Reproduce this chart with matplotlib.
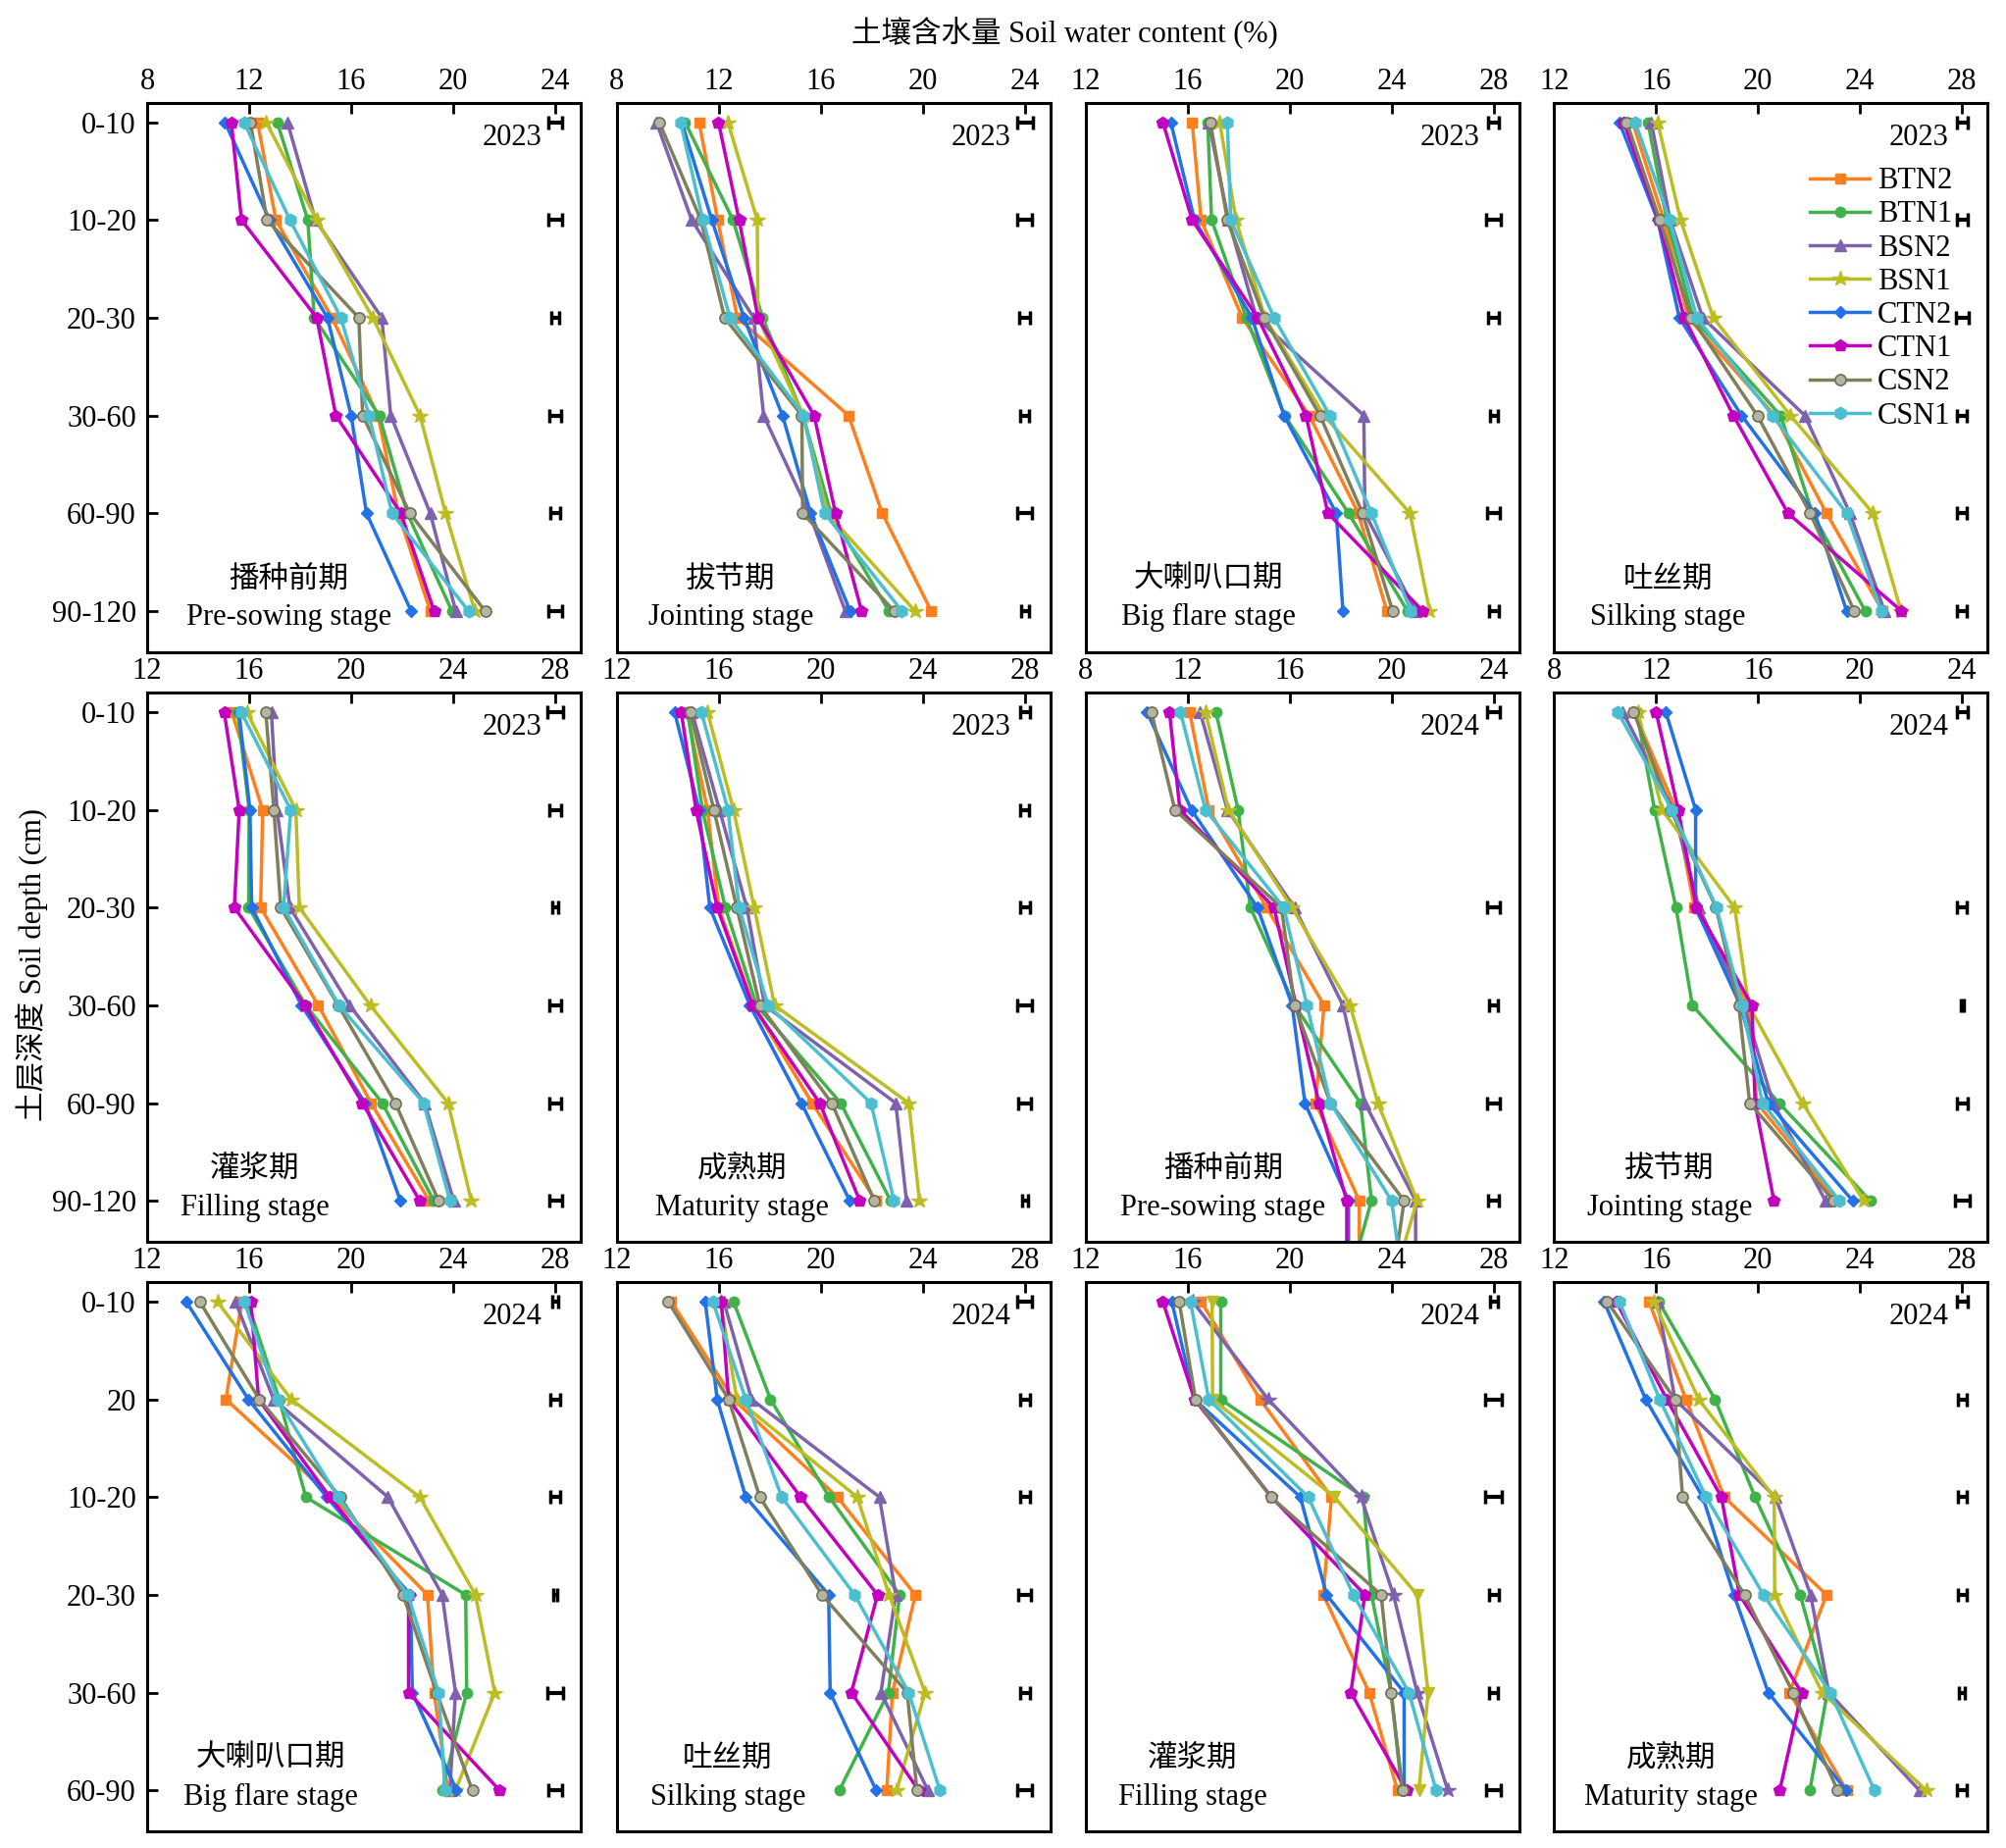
import numpy as np
import matplotlib.pyplot as plt

plt.rcParams['font.family'] = ['Liberation Serif', 'Noto Sans CJK SC']
plt.rcParams['font.size'] = 22
plt.rcParams['axes.linewidth'] = 2.2

treatments = ['BTN2', 'BTN1', 'BSN2', 'BSN1', 'CTN2', 'CTN1', 'CSN2', 'CSN1']
colors = ['#ff7f1e', '#3fb34a', '#7f62ad', '#bcbd22', '#2271e6', '#c300bf', '#7f7f5c', '#4bbfd0']
markers = ['s', 'o', '^', '*', 'D', 'p', 'o', 'h']
msizes = [7.5, 7.5, 8.5, 11.5, 6.5, 9, 8, 9]

depth_top = ['0-10', '10-20', '20-30', '30-60', '60-90', '90-120']
depth_bottom = ['0-10', '20', '10-20', '20-30', '30-60', '60-90']

# soil water content (%), rows: BTN2, BTN1, BSN2, BSN1, CTN2, CTN1, CSN2, CSN1
presow_2023 = [
    [12.33, 13.05, 15.25, 17.05, 17.85, 19.10],
    [13.10, 14.30, 14.55, 17.10, 18.20, 19.95],
    [13.50, 14.60, 17.20, 17.55, 19.10, 20.10],
    [12.67, 14.65, 16.85, 18.70, 19.70, 20.85],
    [11.05, 12.80, 15.07, 16.00, 16.60, 18.35],
    [11.30, 11.70, 14.65, 15.40, 17.95, 19.25],
    [12.05, 12.70, 16.30, 16.45, 18.30, 21.25],
    [11.80, 13.60, 15.60, 16.70, 17.60, 20.60],
]
joint_2023 = [
    [11.23, 11.96, 12.73, 17.09, 18.41, 20.33],
    [10.68, 12.56, 13.72, 15.30, 16.40, 18.67],
    [9.56, 10.94, 13.37, 13.76, 15.55, 16.96],
    [12.36, 13.51, 13.54, 15.30, 16.26, 19.69],
    [10.55, 11.73, 12.99, 14.50, 15.60, 17.15],
    [11.99, 12.80, 13.54, 15.74, 16.58, 17.60],
    [9.67, 11.30, 12.23, 15.26, 15.29, 18.88],
    [10.50, 11.38, 12.44, 15.33, 16.15, 19.18],
]
flare_2023 = [
    [16.18, 16.53, 18.14, 20.77, 22.69, 23.81],
    [16.79, 16.94, 18.30, 19.80, 22.31, 24.62],
    [16.83, 17.60, 18.70, 22.91, 22.95, 24.94],
    [17.26, 17.90, 19.03, 21.35, 24.72, 25.49],
    [15.34, 16.27, 18.52, 19.78, 21.83, 22.09],
    [15.03, 16.18, 18.75, 20.64, 21.50, 25.22],
    [16.89, 17.56, 19.00, 21.19, 22.86, 24.04],
    [17.56, 17.69, 19.39, 21.58, 23.21, 24.75],
]
silk_2023 = [
    [15.08, 16.30, 17.26, 20.65, 22.68, 24.88],
    [15.68, 16.42, 17.45, 20.88, 22.13, 24.20],
    [15.81, 16.55, 17.83, 21.83, 23.60, 24.95],
    [16.06, 16.96, 18.24, 21.27, 24.50, 25.60],
    [14.56, 16.06, 16.91, 19.35, 22.22, 23.47],
    [14.73, 16.10, 17.10, 19.03, 21.17, 25.62],
    [14.85, 16.14, 17.38, 19.97, 22.04, 23.77],
    [15.18, 16.53, 17.60, 20.56, 23.47, 24.82],
]
fill_2023 = [
    [15.32, 16.53, 16.45, 18.71, 20.78, 23.06],
    [15.55, 16.00, 15.98, 18.22, 21.22, 23.24],
    [16.87, 17.09, 17.60, 19.94, 22.88, 24.02],
    [15.91, 17.83, 17.97, 20.75, 23.80, 24.71],
    [15.60, 16.03, 16.10, 18.05, 20.55, 21.93],
    [15.02, 15.61, 15.42, 18.19, 20.44, 22.69],
    [16.65, 16.97, 17.24, 19.49, 21.73, 23.43],
    [15.69, 17.63, 17.35, 19.52, 22.84, 23.87],
]
mature_2023 = [
    [14.75, 15.56, 16.00, 17.35, 19.66, 22.17],
    [14.79, 15.36, 16.26, 17.48, 20.78, 22.74],
    [14.95, 16.03, 17.10, 17.80, 22.94, 23.36],
    [15.56, 16.58, 17.39, 18.19, 23.45, 23.87],
    [14.27, 15.23, 15.65, 17.22, 19.24, 21.14],
    [14.53, 15.11, 15.94, 17.33, 19.96, 21.53],
    [14.88, 15.81, 16.71, 17.61, 20.43, 22.10],
    [15.32, 16.36, 16.80, 17.93, 21.97, 22.87],
]
# the 2024 pre-sowing lines run on past the last layer, out of the frame
presow_2024 = [
    [12.08, 12.83, 15.10, 17.35, 17.02, 18.73, 18.73],
    [13.11, 13.98, 14.46, 16.19, 18.78, 19.21, 18.13],
    [12.49, 13.56, 16.19, 18.09, 18.95, 20.94, 20.94],
    [12.70, 13.60, 16.09, 18.37, 19.46, 21.00, 19.86],
    [10.41, 12.15, 14.74, 16.10, 16.60, 18.31, 18.31],
    [11.29, 11.70, 15.39, 16.25, 17.15, 18.24, 18.24],
    [10.58, 11.50, 15.68, 16.19, 17.60, 20.49, 19.94],
    [11.72, 12.70, 15.77, 16.68, 17.60, 20.00, 20.52],
]
joint_2024 = [
    [11.14, 12.78, 13.50, 15.63, 15.95, 19.09],
    [11.24, 11.94, 12.78, 13.42, 16.82, 20.40],
    [10.69, 12.68, 13.68, 15.44, 16.59, 18.64],
    [11.29, 12.23, 15.08, 15.63, 17.74, 20.14],
    [12.38, 13.55, 13.55, 15.30, 16.40, 19.71],
    [12.00, 12.87, 13.58, 15.76, 15.88, 16.62],
    [11.12, 12.58, 14.35, 15.24, 15.67, 18.96],
    [10.50, 12.62, 14.37, 15.37, 16.17, 19.19],
]
flare_2024 = [
    [15.71, 15.09, 19.24, 22.99, 23.25, 23.79],
    [15.93, 17.18, 18.22, 24.49, 24.53, 23.57],
    [15.46, 16.96, 21.44, 23.57, 24.09, 23.87],
    [14.75, 17.65, 22.69, 24.87, 25.63, 24.09],
    [13.53, 15.97, 19.04, 22.32, 22.40, 24.13],
    [16.07, 16.37, 19.16, 22.25, 22.25, 25.82],
    [14.06, 16.40, 19.57, 22.03, 23.35, 24.75],
    [15.81, 17.10, 19.49, 22.22, 23.43, 23.68],
]
silk_2024 = [
    [14.14, 16.58, 20.65, 23.71, 22.81, 22.59],
    [16.58, 18.03, 20.33, 23.09, 22.65, 20.73],
    [16.20, 17.29, 22.30, 22.94, 22.36, 24.20],
    [16.07, 16.71, 21.43, 22.68, 24.09, 22.98],
    [15.47, 15.94, 17.06, 20.31, 20.37, 22.17],
    [16.10, 16.39, 19.21, 22.23, 21.20, 23.84],
    [14.02, 16.39, 17.61, 20.05, 23.39, 23.77],
    [15.77, 17.06, 18.47, 21.33, 23.45, 24.67],
]
fill_2024 = [
    [16.53, 18.84, 21.64, 21.32, 23.12, 24.23],
    [17.30, 17.30, 22.89, 23.21, 23.98, 24.40],
    [16.20, 19.16, 22.80, 24.07, 25.00, 26.20],
    [16.96, 16.98, 21.76, 25.00, 25.43, 25.07],
    [15.38, 16.27, 20.42, 21.45, 24.49, 24.49],
    [15.03, 16.27, 19.29, 22.95, 22.40, 24.58],
    [15.67, 16.31, 19.27, 23.59, 23.98, 24.43],
    [16.11, 16.83, 20.73, 22.50, 24.68, 25.74],
]
mature_2024 = [
    [15.72, 17.17, 18.67, 22.68, 21.23, 23.47],
    [16.10, 18.31, 19.88, 21.65, 22.71, 22.03],
    [16.06, 16.74, 20.68, 22.06, 22.77, 26.32],
    [15.91, 17.67, 20.63, 20.65, 22.51, 26.59],
    [13.96, 15.59, 17.83, 19.05, 20.40, 23.45],
    [14.44, 16.42, 18.56, 19.27, 21.71, 20.85],
    [14.08, 16.74, 17.04, 19.47, 21.36, 23.12],
    [14.56, 16.14, 17.96, 20.21, 22.83, 24.56],
]

# half widths of the error bars drawn at the right of each panel
err_presow_2023 = [0.26, 0.26, 0.15, 0.22, 0.19, 0.26]
err_joint_2023 = [0.30, 0.28, 0.22, 0.18, 0.28, 0.15]
err_flare_2023 = [0.22, 0.28, 0.22, 0.16, 0.24, 0.20]
err_silk_2023 = [0.22, 0.22, 0.26, 0.19, 0.19, 0.19]
err_fill_2023 = [0.29, 0.22, 0.12, 0.22, 0.22, 0.25]
err_mature_2023 = [0.20, 0.18, 0.20, 0.29, 0.24, 0.11]
err_presow_2024 = [0.26, np.nan, 0.26, 0.17, 0.26, 0.22]
err_joint_2024 = [0.22, np.nan, 0.19, 0.06, 0.22, 0.29]
err_flare_2024 = [0.13, 0.19, 0.19, 0.09, 0.32, 0.26]
err_silk_2024 = [0.28, 0.20, 0.20, 0.24, 0.20, 0.28]
err_fill_2024 = [0.16, 0.32, 0.32, 0.19, 0.17, 0.29]
err_mature_2024 = [0.21, 0.17, 0.17, 0.17, 0.12, 0.19]

# data, errors, year, stage (cn, en), x min, y labels, x of stage text
panels = [
    (presow_2023, err_presow_2023, '2023', '播种前期', 'Pre-sowing stage', 8, depth_top, 0.327),
    (joint_2023, err_joint_2023, '2023', '拔节期', 'Jointing stage', 8, depth_top, 0.263),
    (flare_2023, err_flare_2023, '2023', '大喇叭口期', 'Big flare stage', 12, depth_top, 0.283),
    (silk_2023, err_silk_2023, '2023', '吐丝期', 'Silking stage', 12, depth_top, 0.262),
    (fill_2023, err_fill_2023, '2023', '灌浆期', 'Filling stage', 12, depth_top, 0.249),
    (mature_2023, err_mature_2023, '2023', '成熟期', 'Maturity stage', 12, depth_top, 0.290),
    (presow_2024, err_presow_2024, '2024', '播种前期', 'Pre-sowing stage', 8, depth_top, 0.317),
    (joint_2024, err_joint_2024, '2024', '拔节期', 'Jointing stage', 8, depth_top, 0.266),
    (flare_2024, err_flare_2024, '2024', '大喇叭口期', 'Big flare stage', 12, depth_bottom, 0.284),
    (silk_2024, err_silk_2024, '2024', '吐丝期', 'Silking stage', 12, depth_bottom, 0.256),
    (fill_2024, err_fill_2024, '2024', '灌浆期', 'Filling stage', 12, depth_bottom, 0.246),
    (mature_2024, err_mature_2024, '2024', '成熟期', 'Maturity stage', 12, depth_bottom, 0.270),
]

W, H = 2045, 1884
fig = plt.figure(figsize=(W / 100, H / 100), dpi=100)

lefts = [150, 628.7, 1106.7, 1584.3]
tops = [104.7, 706, 1307]
pw, ph = 442, 560

for i, (data, err, year, cn, en, xmin, ylabels, tx) in enumerate(panels):
    r, c = divmod(i, 4)
    ax = fig.add_axes([lefts[c] / W, 1 - (tops[r] + ph) / H, pw / W, ph / H])

    mk = list(markers)
    if i == 10:
        mk[2], mk[3] = '*', 'v'
    for k, vals in enumerate(data):
        y = np.arange(len(vals))
        ms = msizes[k]
        if mk[k] == '*':
            ms = 11.5
        elif mk[k] == 'v':
            ms = 8.5
        if treatments[k] == 'CSN2':
            ax.plot(vals, y, color=colors[k], lw=2.5, marker='o', ms=ms,
                    mfc='#b4b4a2', mec='#6f6f55', mew=1.2, label=treatments[k])
        else:
            ax.plot(vals, y, color=colors[k], lw=2.5, marker=mk[k], ms=ms,
                    mec=colors[k], label=treatments[k])

    ax.errorbar([xmin + 16] * 6, np.arange(6), xerr=err, fmt='none',
                ecolor='black', elinewidth=3, capsize=5, capthick=2.5)

    ax.set_xlim(xmin, xmin + 17)
    ax.set_ylim(5.42, -0.2)
    ax.set_xticks(np.arange(xmin, xmin + 17, 4))
    ax.xaxis.tick_top()
    ax.tick_params(axis='x', direction='in', length=8, width=2, top=True,
                   bottom=False, labeltop=True, labelbottom=False, pad=5)
    ax.set_yticks(np.arange(6))
    if c == 0:
        ax.set_yticklabels(ylabels)
        ax.tick_params(axis='y', direction='in', length=8, width=2, pad=8)
    else:
        ax.tick_params(axis='y', left=False, labelleft=False)

    ax.text(0.91, 0.936, year, transform=ax.transAxes, ha='right', va='center')
    ax.text(tx, 0.132, cn, transform=ax.transAxes, ha='center', va='center')
    ax.text(tx, 0.062, en, transform=ax.transAxes, ha='center', va='center')

    if i == 3:
        ax.legend(loc='upper left', bbox_to_anchor=(0.59, 0.883), frameon=False,
                  labelspacing=0.17, handlelength=2.0, handletextpad=0.25,
                  borderpad=0, borderaxespad=0, fontsize=22)

fig.text(0.5306, 0.9825, '土壤含水量 Soil water content (%)', ha='center', va='center')
fig.text(0.016, 0.478, '土层深度 Soil depth (cm)', ha='center', va='center', rotation=90)

fig.savefig('out.png', dpi=100)
